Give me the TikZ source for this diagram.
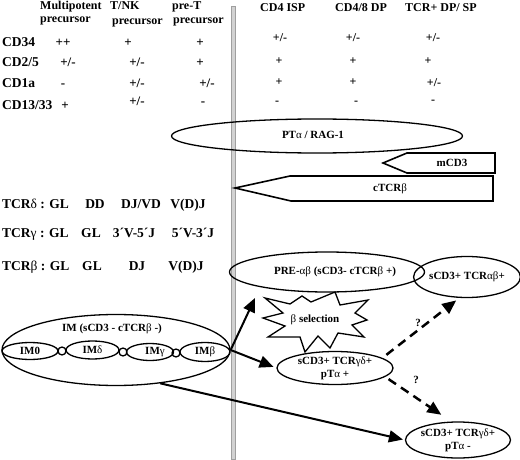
\documentclass[tikz,border=0pt]{standalone}
\usepackage{fontspec}
\setmainfont{Liberation Serif}
\usetikzlibrary{shapes.geometric,arrows.meta,calc}
\newcommand{\gk}[1]{{\mdseries #1}}
\begin{document}
\begin{tikzpicture}[x=1pt,y=-1pt,
  hdr/.style={font=\bfseries\fontsize{12}{14}\selectfont, anchor=base west, inner sep=0pt},
  rowlbl/.style={font=\bfseries\fontsize{13.5}{15}\selectfont, anchor=base west, inner sep=0pt},
  val/.style={font=\bfseries\fontsize{13}{15}\selectfont, anchor=base, inner sep=0pt},
  rval/.style={font=\bfseries\fontsize{12}{14}\selectfont, anchor=base, inner sep=0pt},
  tcrl/.style={font=\bfseries\fontsize{13.5}{16}\selectfont, anchor=base west, inner sep=0pt},
  tcr/.style={font=\bfseries\fontsize{13.5}{16}\selectfont, anchor=base, inner sep=0pt},
  cell/.style={draw, ellipse, line width=1.3pt, inner sep=0pt, font=\bfseries\fontsize{11}{13}\selectfont, align=center},
  txt/.style={font=\bfseries\fontsize{11}{13}\selectfont, inner sep=0pt},
  arr/.style={line width=2pt, -{Triangle[length=14pt,width=12pt]}},
  darr/.style={line width=2.5pt, dash pattern=on 9pt off 6pt, -{Triangle[length=14pt,width=12pt]}},
  pent/.style={draw, line width=1.6pt, line join=miter},
]
\useasboundingbox (0,0) rectangle (520,460);
\fill[white] (0,0) rectangle (520,460);

% vertical bar
\fill[gray!35] (231,6) rectangle (235,459);
\draw[gray!75, line width=0.6pt] (231,6) rectangle (235,459);

% headers left
\node[hdr] (h1a) at (40,9.3) {Multipotent};
\node[hdr] (h1b) at (40,22.7) {precursor};
\node[hdr] (h2a) at (110,10) {T/NK};
\node[hdr] (h2b) at (112,25) {precursor};
\node[hdr] (h3a) at (172,9.3) {pre-T};
\node[hdr] (h3b) at (173,24) {precursor};
% headers right
\node[hdr] (h4) at (260,11.7) {CD4 ISP};
\node[hdr] (h5) at (335,11.7) {CD4/8 DP};
\node[hdr] (h6) at (405,11.7) {TCR+ DP/ SP};

% row labels
\node[rowlbl] (r1) at (2,46.7) {CD34};
\node[rowlbl] (r2) at (2,66.7) {CD2/5};
\node[rowlbl] (r3) at (2,87.3) {CD1a};
\node[rowlbl] (r4) at (2,110) {CD13/33};

% left values
\node[val] (v11) at (63,46.7) {++};
\node[val] (v12) at (128,46.7) {+};
\node[val] (v13) at (200,46.7) {+};
\node[val] (v21) at (68,66.7) {+/-};
\node[val] (v22) at (137,66.7) {+/-};
\node[val] (v23) at (200,66.7) {+};
\node[val] (v31) at (63,87.3) {-};
\node[val] (v32) at (137,87.3) {+/-};
\node[val] (v33) at (207,87.3) {+/-};
\node[val] (v41) at (65,110) {+};
\node[val] (v42) at (137,106) {+/-};
\node[val] (v43) at (203,106) {-};

% right values
\node[rval] (w11) at (280,42) {+/-};
\node[rval] (w12) at (353,42) {+/-};
\node[rval] (w13) at (433,42) {+/-};
\node[rval] (w21) at (279,65) {+};
\node[rval] (w22) at (353,65) {+};
\node[rval] (w23) at (428,65) {+};
\node[rval] (w31) at (279,85) {+};
\node[rval] (w32) at (353,85) {+};
\node[rval] (w33) at (434,87) {+/-};
\node[rval] (w41) at (277,105) {-};
\node[rval] (w42) at (356,105) {-};
\node[rval] (w43) at (433,103) {-};

% PTa / RAG-1
\node[cell, minimum width=291pt, minimum height=34pt] (rag) at (317,136) {};
\node[txt] (ragl) at (313,135) {PT\gk{α} / RAG-1};

% mCD3 and cTCRb arrows
\draw[pent] (383,163) -- (407,153) -- (495,153) -- (495,173) -- (407,173) -- cycle;
\node[txt] (mcd3) at (452,163) {mCD3};
\draw[pent] (235,188) -- (290,176) -- (493,176) -- (493,201) -- (291,201) -- cycle;
\node[txt] (ctcrb) at (390,189) {cTCR\gk{β}};

% TCR rows
\node[tcrl] (td) at (2,208) {TCR\gk{δ} : GL};
\node[tcr] (td2) at (95,208) {DD};
\node[tcr] (td3) at (141,208) {DJ/VD};
\node[tcr] (td4) at (188,208) {V(D)J};
\node[tcrl] (tg) at (2,237.7) {TCR\gk{γ} : GL};
\node[tcr] (tg2) at (91,237.7) {GL};
\node[tcr] (tg3) at (134,237.7) {3´V-5´J};
\node[tcr] (tg4) at (193,237.7) {5´V-3´J};
\node[tcrl] (tb) at (2,270.7) {TCR\gk{β} : GL};
\node[tcr] (tb2) at (92,270.7) {GL};
\node[tcr] (tb3) at (137,270.7) {DJ};
\node[tcr] (tb4) at (186,270.7) {V(D)J};

% IM
\node[cell, minimum width=228pt, minimum height=71pt] (im) at (116,350) {};
\node[txt] (iml) at (112,329) {IM (sCD3 - cTCR\gk{β} -)};
\node[cell, minimum width=56pt, minimum height=17pt] (im0) at (30,351) {IM0};
\node[cell, minimum width=53pt, minimum height=18pt] (imd) at (92.5,350) {IM\gk{δ}};
\node[cell, minimum width=47pt, minimum height=17pt] (img) at (150,352) {\hspace*{10pt}IM\gk{γ}};
\node[cell, minimum width=50pt, minimum height=19pt] (imb) at (205,352) {IM\gk{β}};
\node[draw, circle, line width=1.3pt, minimum size=8pt, inner sep=0pt] (c1) at (62,351) {};
\node[draw, circle, line width=1.3pt, minimum size=8pt, inner sep=0pt] (c2) at (123,352) {};
\node[draw, circle, line width=1.3pt, minimum size=8pt, inner sep=0pt] (c3) at (176,353) {};

% right cells
\node[cell, minimum width=171pt, minimum height=40pt] (pre) at (327,272) {\hspace*{16pt}PRE-\gk{αβ} (sCD3- cTCR\gk{β} +)};
\node[cell, minimum width=101pt, minimum height=41pt] (ab) at (467,277) {sCD3+ TCR\gk{αβ}+};
\node[cell, minimum width=116pt, minimum height=33pt] (gdp) at (335,368) {sCD3+ TCR\gk{γδ}+\\pT\gk{α} +};
\node[cell, minimum width=93pt, minimum height=36pt] (gdm) at (458,440) {sCD3+ TCR\gk{γδ}+\\pT\gk{α} -};

% beta selection star
\draw[line width=1.3pt, fill=white, line join=miter]
  (265,298) -- (290,304) -- (302,296) -- (311,302) -- (335,292) -- (340,305)
  -- (368,300) -- (355,313) -- (367,320) -- (352,325) -- (364,337) -- (338,333)
  -- (330,348) -- (318,336) -- (305,352) -- (300,337) -- (268,337) -- (285,326)
  -- (263,318) -- (283,313) -- cycle;
\node[txt] (bsel) at (315,320) {\gk{β} selection};

% arrows
\coordinate (t1) at (255,298);
\draw[arr] (im.east) -- (t1);
\draw[arr, shorten >=3pt] (im.east) -- (gdp.west);
\draw[arr, shorten >=2pt] (im.-37) -- (gdm.west);
\draw[darr, shorten <=5pt, shorten >=4pt] (gdp.12) -- (ab.-110);
\draw[darr, shorten <=4pt, shorten >=12pt] (gdp.-10) -- (gdm.110);
\node[txt] (q1) at (418,323) {?};
\node[txt] (q2) at (416,380) {?};
\end{tikzpicture}
\end{document}
